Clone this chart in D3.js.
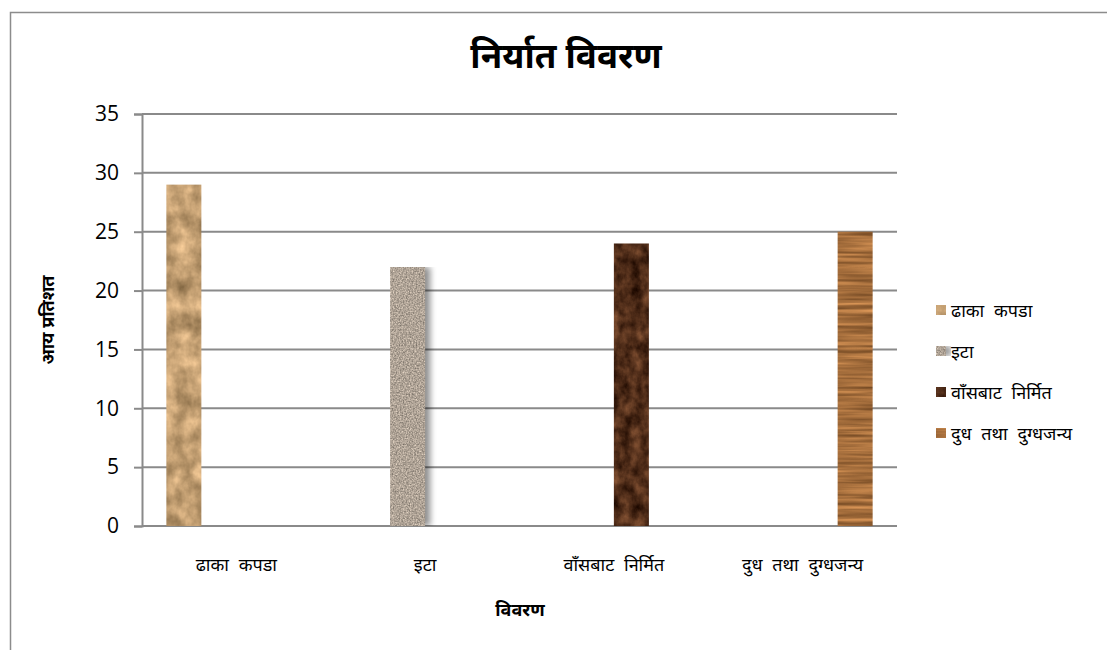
<!DOCTYPE html>
<meta charset="utf-8">
<style>
  body { margin: 0; background: #fff; }
  text { font-family: "Noto Sans", "Noto Sans Devanagari", sans-serif; }
  .tick-label { font-family: "Open Sans", "Liberation Sans", sans-serif; font-size: 21px; fill: #000; }
</style>
<body>
<svg width="1107" height="650"></svg>

<script src="https://cdnjs.cloudflare.com/ajax/libs/d3/7.8.5/d3.min.js"></script>
<script>

// Data
var categories = ["ढाका कपडा", "इटा", "वाँसबाट निर्मित", "दुध तथा दुग्धजन्य"];
var seriesNames = ["ढाका कपडा", "इटा", "वाँसबाट निर्मित", "दुध तथा दुग्धजन्य"];
// one value per series, each only present in its own category
var seriesValues = [29, 22, 24, 25];
var yTicks = [0, 5, 10, 15, 20, 25, 30, 35];

// texture look per series: base colour, noise strength, noise frequency
var textures = [
    {id: "tex0", base: [196, 160, 115], amp: [150, 130, 110], freq: "0.06 0.05", oct: 4},
    {id: "tex1", base: [175, 163, 150], amp: [150, 140, 130], freq: "0.7", oct: 2, shadow: true},
    {id: "tex2", base: [80, 45, 25], amp: [140, 100, 70], freq: "0.09 0.07", oct: 4},
    {id: "tex3", base: [165, 110, 60], amp: [160, 120, 80], freq: "0.01 0.25", oct: 3}
];

var svg = d3.select("svg");
var margin = {top: 114, left: 142, right: 210, bottom: 124};
var width = 1107 - margin.left - margin.right;
var height = 650 - margin.top - margin.bottom;

// Outer chart frame
svg.append("rect")
    .attr("x", 10.5).attr("y", 12.5)
    .attr("width", 1200).attr("height", 700)
    .attr("fill", "none")
    .attr("stroke", "#8c8c8c")
    .attr("stroke-width", 1.5);

// Texture filters
var defs = svg.append("defs");
textures.forEach(function(t) {
    var f = defs.append("filter")
        .attr("id", t.id)
        .attr("x", "-10%").attr("y", "0%")
        .attr("width", t.shadow ? "160%" : "120%").attr("height", "100%")
        .attr("color-interpolation-filters", "sRGB");
    f.append("feTurbulence")
        .attr("type", "fractalNoise")
        .attr("baseFrequency", t.freq)
        .attr("numOctaves", t.oct)
        .attr("seed", 3)
        .attr("result", "noise");
    var row = function(i) {
        var k = t.amp[i] / 255;
        return k + " 0 0 0 " + (t.base[i] / 255 - k * 0.5);
    };
    f.append("feColorMatrix")
        .attr("in", "noise")
        .attr("type", "matrix")
        .attr("values", row(0) + " " + row(1) + " " + row(2) + " 0 0 0 0 1")
        .attr("result", "col");
    f.append("feComposite")
        .attr("in", "col").attr("in2", "SourceGraphic")
        .attr("operator", "in")
        .attr("result", "tex");
    if (t.shadow) {
        f.append("feGaussianBlur")
            .attr("in", "SourceAlpha").attr("stdDeviation", 3)
            .attr("result", "blur");
        f.append("feOffset")
            .attr("in", "blur").attr("dx", 5).attr("dy", 0)
            .attr("result", "off");
        f.append("feComponentTransfer")
            .attr("in", "off").attr("result", "shadow")
            .append("feFuncA").attr("type", "linear").attr("slope", 0.45);
        var m = f.append("feMerge");
        m.append("feMergeNode").attr("in", "shadow");
        m.append("feMergeNode").attr("in", "tex");
    }
});

var g = svg.append("g")
    .attr("transform", "translate(" + margin.left + "," + margin.top + ")");

// Scales
var x0 = d3.scaleBand().domain(categories).range([0, width])
    .paddingInner(0.258).paddingOuter(0.129);
var x1 = d3.scaleBand().domain(d3.range(seriesNames.length)).range([0, x0.bandwidth()]);
var y = d3.scaleLinear().domain([0, 35]).range([height, 0]);

// Gridlines
g.append("g")
    .selectAll("line")
    .data(yTicks)
    .join("line")
    .attr("x1", 0).attr("x2", width)
    .attr("y1", function(d) { return y(d); })
    .attr("y2", function(d) { return y(d); })
    .attr("stroke", "#8a8a8a")
    .attr("stroke-width", 2);

// Y axis
var yAxis = d3.axisLeft(y).tickValues(yTicks).tickSize(8).tickPadding(15);
var yAxisG = g.append("g").call(yAxis);
yAxisG.select(".domain").attr("stroke", "#8a8a8a").attr("stroke-width", 2);
yAxisG.selectAll(".tick line").attr("stroke", "#8a8a8a").attr("stroke-width", 2);
yAxisG.selectAll(".tick text").attr("class", "tick-label").attr("font-size", null).attr("font-family", null);

// Bars
categories.forEach(function(c, i) {
    g.append("rect")
        .attr("x", x0(c) + x1(i))
        .attr("y", y(seriesValues[i]))
        .attr("width", x1.bandwidth())
        .attr("height", y(0) - y(seriesValues[i]))
        .attr("fill", "#000")
        .attr("filter", "url(#" + textures[i].id + ")");
});

// Category labels
g.append("g")
    .selectAll("text")
    .data(categories)
    .join("text")
    .attr("x", function(d) { return x0(d) + x0.bandwidth() / 2; })
    .attr("y", height + 45)
    .attr("text-anchor", "middle")
    .attr("font-size", 18)
    .attr("word-spacing", 5)
    .text(function(d) { return d; });

// Title
svg.append("text")
    .attr("x", 566).attr("y", 68)
    .attr("text-anchor", "middle")
    .attr("font-size", 35)
    .attr("font-weight", "bold")
    .text("निर्यात विवरण");

// Axis titles
svg.append("text")
    .attr("x", 520).attr("y", 616)
    .attr("text-anchor", "middle")
    .attr("font-size", 18)
    .attr("font-weight", "bold")
    .text("विवरण");

svg.append("text")
    .attr("transform", "translate(54,320) rotate(-90)")
    .attr("text-anchor", "middle")
    .attr("font-size", 18)
    .attr("font-weight", "bold")
    .text("आय प्रतिशत");

// Legend
var legend = svg.append("g").attr("transform", "translate(936,311)");
var item = legend.selectAll("g")
    .data(seriesNames)
    .join("g")
    .attr("transform", function(d, i) { return "translate(0," + (i * 41) + ")"; });
item.append("rect")
    .attr("x", 0).attr("y", -6)
    .attr("width", 10).attr("height", 10)
    .attr("fill", "#000")
    .attr("filter", function(d, i) { return "url(#" + textures[i].id + ")"; });
item.append("text")
    .attr("x", 15).attr("y", 6)
    .attr("font-size", 18)
    .attr("word-spacing", 5)
    .text(function(d) { return d; });

</script>
</body>
